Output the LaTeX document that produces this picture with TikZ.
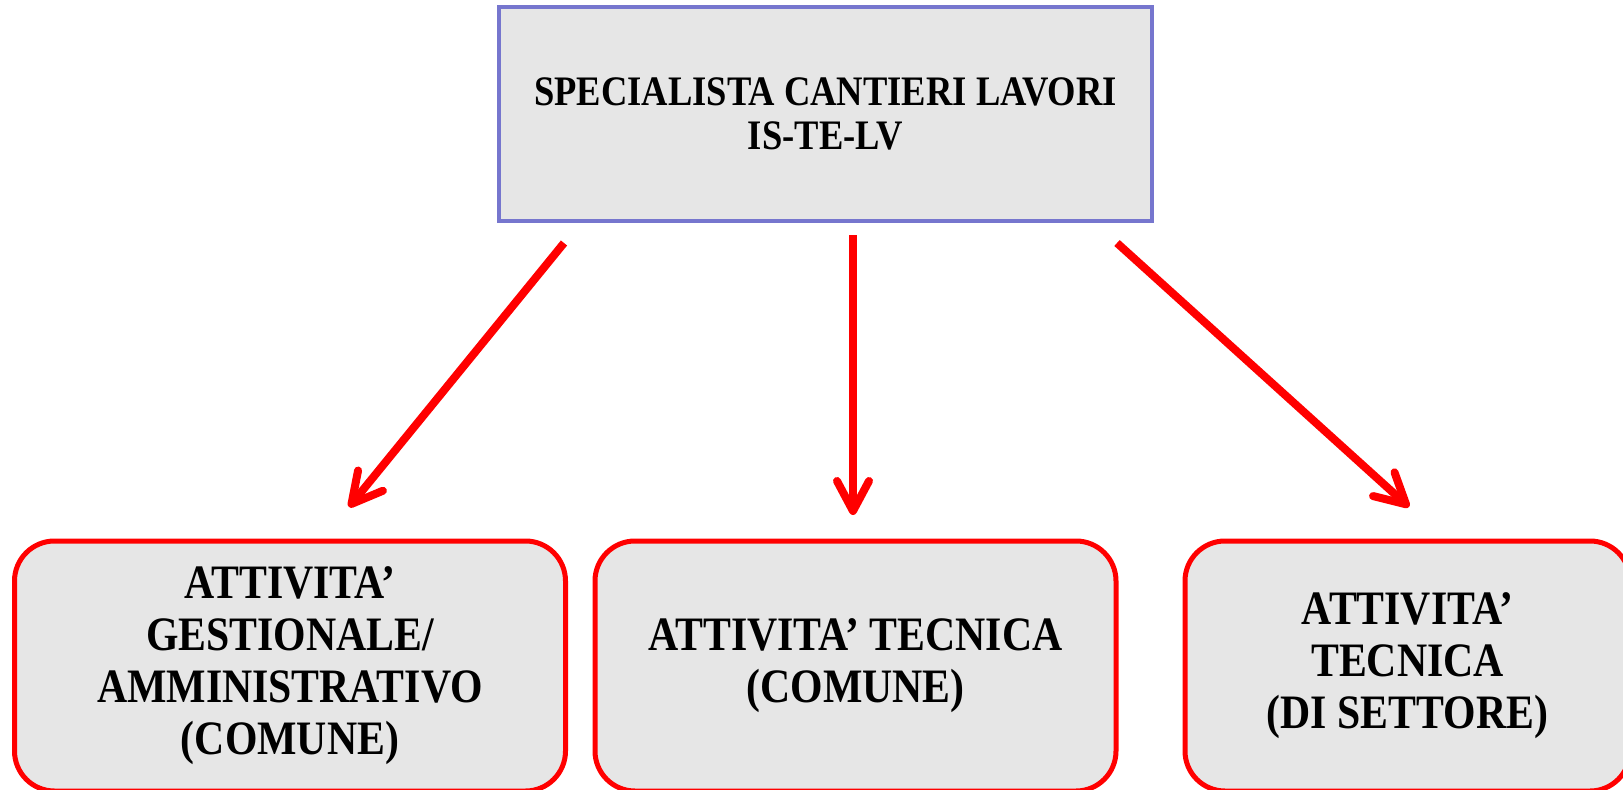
\documentclass[tikz,border=0pt]{standalone}
\usepackage{fontspec}
\newfontfamily\garfont[FakeStretch=0.87]{Liberation Serif}
\usetikzlibrary{arrows.meta}
\definecolor{topline}{RGB}{118,118,206}
\definecolor{boxfill}{RGB}{230,230,230}
\definecolor{redline}{RGB}{255,0,0}
\tikzset{
  topbox/.style={draw=topline, line width=4pt, fill=boxfill, minimum width=653pt, minimum height=214pt, inner sep=0pt, align=center,
    font=\garfont\bfseries\fontsize{42}{44}\selectfont},
  actbox/.style={draw=redline, line width=5pt, fill=boxfill, rounded corners=40pt, minimum height=250pt, inner sep=0pt, align=center,
    font=\garfont\bfseries\fontsize{48}{52}\selectfont},
  redarrow/.style={draw=redline, line width=8pt, -{Straight Barb[length=30pt,width=32pt,round]}}
}
\begin{document}
\begin{tikzpicture}[x=1pt,y=-1pt]
\useasboundingbox (0,0) rectangle (1623,790);
\node[topbox] (top) at (825.5,114) {SPECIALISTA CANTIERI LAVORI\\IS-TE-LV};
\node[actbox, minimum width=551pt] (gest) at (290,666) {ATTIVITA’\\GESTIONALE/\\AMMINISTRATIVO\\(COMUNE)};
\node[actbox, minimum width=521pt] (tecc) at (855.5,666) {ATTIVITA’ TECNICA\\(COMUNE)};
\node[actbox, minimum width=445pt] (tecs) at (1407.5,666) {ATTIVITA’\\TECNICA\\(DI SETTORE)};
\coordinate (s1) at (564,243);
\coordinate (e1) at (349,507);
\coordinate (s2) at (853,235);
\coordinate (e2) at (853,515);
\coordinate (s3) at (1117,243);
\coordinate (e3) at (1409,507);
\draw[redarrow] (s1) -- (e1);
\draw[redarrow] (s2) -- (e2);
\draw[redarrow] (s3) -- (e3);
\end{tikzpicture}
\end{document}
